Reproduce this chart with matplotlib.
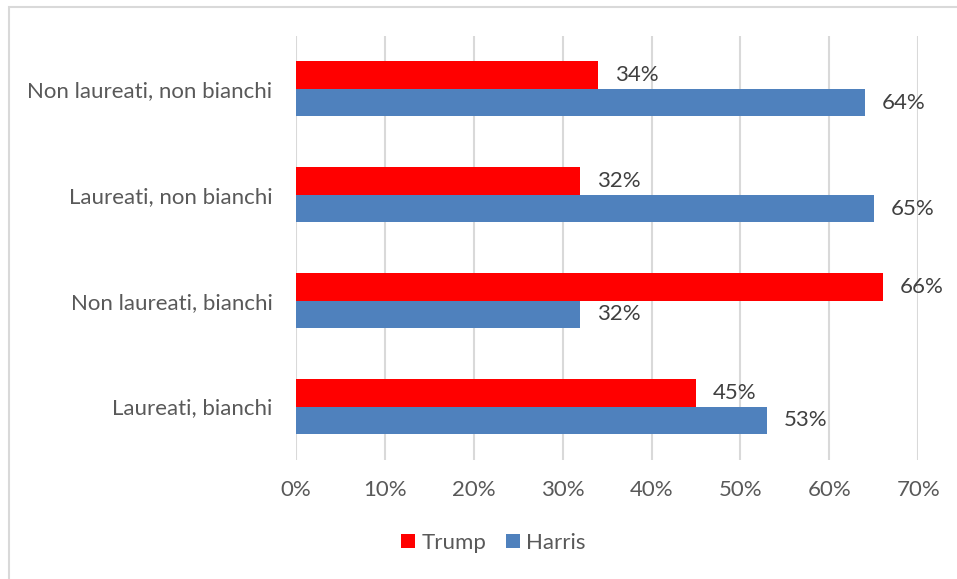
import numpy as np
import matplotlib
matplotlib.use("Agg")
import matplotlib.pyplot as plt
from matplotlib.patches import Patch, Rectangle

# Data (top to bottom in the chart)
categories = ["Non laureati, non bianchi", "Laureati, non bianchi",
              "Non laureati, bianchi", "Laureati, bianchi"]
trump = [34, 32, 66, 45]
harris = [64, 65, 32, 53]
x_ticks = [0, 10, 20, 30, 40, 50, 60, 70]

RED = "#FF0000"
BLUE = "#4F81BD"
AXIS_TXT = "#595959"
LABEL_TXT = "#404040"
GRID = "#D9D9D9"

plt.rcParams["font.family"] = ["Lato", "DejaVu Sans"]

fig = plt.figure(figsize=(9.57, 5.79), dpi=100)
ax = fig.add_axes([296 / 957, 1 - 459.5 / 579, (918.3 - 296) / 957, (459.5 - 36) / 579])

# reverse so first category sits at the top
pos = np.arange(len(categories))[::-1]
h = 0.26
b_trump = ax.barh(pos + h / 2, trump, height=h, color=RED, label="Trump")
b_harris = ax.barh(pos - h / 2, harris, height=h, color=BLUE, label="Harris")

ax.bar_label(b_trump, labels=[f"{v}%" for v in trump], padding=12,
             fontsize=16, color=LABEL_TXT)
ax.bar_label(b_harris, labels=[f"{v}%" for v in harris], padding=12,
             fontsize=16, color=LABEL_TXT)

ax.set_xlim(0, 70)
ax.set_ylim(-0.5, len(categories) - 0.5)
ax.set_xticks(x_ticks)
ax.set_xticklabels([f"{t}%" for t in x_ticks])
ax.set_yticks(pos)
ax.set_yticklabels(categories)
ax.tick_params(axis="x", length=0, pad=15, labelsize=16, labelcolor=AXIS_TXT)
ax.tick_params(axis="y", length=0, pad=17, labelsize=16, labelcolor=AXIS_TXT)

for s in ax.spines.values():
    s.set_visible(False)
ax.grid(axis="x", color=GRID, linewidth=1.5)
ax.set_axisbelow(True)

handles = [Patch(facecolor=RED, label="Trump"), Patch(facecolor=BLUE, label="Harris")]
leg = fig.legend(handles=handles, loc="center", bbox_to_anchor=(493.5 / 957, 1 - 543 / 579),
                 ncol=2, frameon=False, fontsize=16, handlelength=0.6, handleheight=0.6,
                 handletextpad=0.3, columnspacing=0.9)
for t in leg.get_texts():
    t.set_color(AXIS_TXT)

# outer chart frame (only top and left edges visible)
fig.patches.append(Rectangle((9 / 957, -0.1), 1.2, 1 - 7 / 579 + 0.1,
                             transform=fig.transFigure, fill=False,
                             edgecolor=GRID, linewidth=1.5))

fig.savefig("out.png", dpi=100)
